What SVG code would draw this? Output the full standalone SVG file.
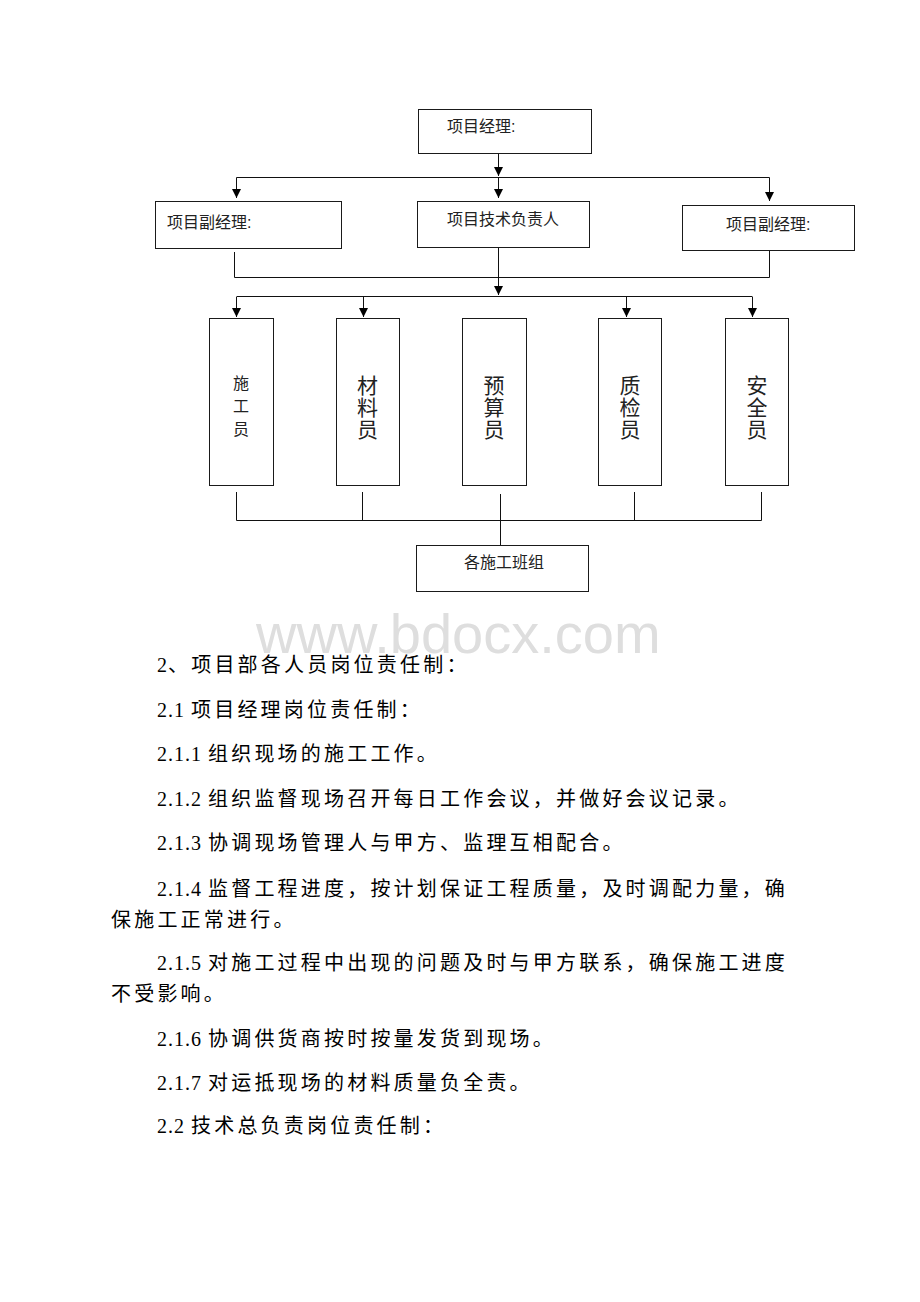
<svg xmlns="http://www.w3.org/2000/svg" width="920" height="1302" viewBox="0 0 920 1302">
<style>
.box{fill:#fff;stroke:#1a1a1a;stroke-width:1}
.ln{fill:none;stroke:#111;stroke-width:1}
.lbl{font-family:"Liberation Sans","Noto Sans CJK SC",sans-serif;font-size:16px;fill:#222}
.v1{font-family:"Liberation Sans","Noto Sans CJK SC",sans-serif;font-size:16px;fill:#222;text-anchor:middle}
.v2{font-family:"Liberation Sans","Noto Sans CJK SC",sans-serif;font-size:21px;fill:#222;text-anchor:middle}
.body{font-family:"Liberation Serif","Noto Sans CJK SC",serif;font-size:20px;fill:#000;letter-spacing:3.2px}
.n{letter-spacing:1px}
.wm{font-family:"Liberation Sans",Arial,sans-serif;font-size:56px;fill:#dedede}
</style>
<defs>
<marker id="ah" viewBox="0 0 10 10" refX="10" refY="5" markerWidth="9" markerHeight="9" markerUnits="userSpaceOnUse" orient="auto">
<path d="M0,0 L10,5 L0,10 z" fill="#000"/>
</marker>
</defs>
<rect width="920" height="1302" fill="#fff"/>

<g id="connectors">
<line class="ln" x1="498.5" y1="153" x2="498.5" y2="176" marker-end="url(#ah)"/>
<polyline class="ln" points="236.5,198 236.5,177.5 769.5,177.5 769.5,201" />
<line class="ln" x1="236.5" y1="178" x2="236.5" y2="198" marker-end="url(#ah)"/>
<line class="ln" x1="498.5" y1="178" x2="498.5" y2="198" marker-end="url(#ah)"/>
<line class="ln" x1="769.5" y1="178" x2="769.5" y2="201" marker-end="url(#ah)"/>
<polyline class="ln" points="234.5,252 234.5,277.5 769.5,277.5 769.5,251"/>
<line class="ln" x1="498.5" y1="247" x2="498.5" y2="295" marker-end="url(#ah)"/>
<line class="ln" x1="236.5" y1="296.5" x2="752.5" y2="296.5"/>
<line class="ln" x1="236.5" y1="297" x2="236.5" y2="317" marker-end="url(#ah)"/>
<line class="ln" x1="363.5" y1="297" x2="363.5" y2="317" marker-end="url(#ah)"/>
<line class="ln" x1="626.5" y1="297" x2="626.5" y2="317" marker-end="url(#ah)"/>
<line class="ln" x1="752.5" y1="297" x2="752.5" y2="317" marker-end="url(#ah)"/>
<polyline class="ln" points="236.5,492 236.5,520.5 761.5,520.5 761.5,492"/>
<line class="ln" x1="362.5" y1="492" x2="362.5" y2="520"/>
<line class="ln" x1="634.5" y1="492" x2="634.5" y2="520"/>
<line class="ln" x1="500.5" y1="494" x2="500.5" y2="545"/>
</g>

<g id="pm">
<rect class="box" x="418.5" y="109.5" width="173" height="44"/>
<text class="lbl" x="447" y="132">项目经理:</text>
</g>
<g id="vpm-left">
<rect class="box" x="155.5" y="201.5" width="186" height="47"/>
<text class="lbl" x="167" y="228">项目副经理:</text>
</g>
<g id="tech">
<rect class="box" x="417.5" y="201.5" width="172" height="46"/>
<text class="lbl" x="447" y="225">项目技术负责人</text>
</g>
<g id="vpm-right">
<rect class="box" x="682.5" y="205.5" width="172" height="45"/>
<text class="lbl" x="726" y="230">项目副经理:</text>
</g>

<g id="sgy">
<rect class="box" x="209.5" y="318.5" width="64" height="167"/>
<text class="v1" x="241" y="389">施</text>
<text class="v1" x="241" y="412">工</text>
<text class="v1" x="241" y="435">员</text>
</g>
<g id="cly">
<rect class="box" x="336.5" y="318.5" width="63" height="167"/>
<text class="v2" x="367.5" y="393">材</text>
<text class="v2" x="367.5" y="415">料</text>
<text class="v2" x="367.5" y="437">员</text>
</g>
<g id="ysy">
<rect class="box" x="462.5" y="318.5" width="64" height="167"/>
<text class="v2" x="494" y="393">预</text>
<text class="v2" x="494" y="415">算</text>
<text class="v2" x="494" y="437">员</text>
</g>
<g id="zjy">
<rect class="box" x="598.5" y="318.5" width="63" height="167"/>
<text class="v2" x="630" y="393">质</text>
<text class="v2" x="630" y="415">检</text>
<text class="v2" x="630" y="437">员</text>
</g>
<g id="aqy">
<rect class="box" x="725.5" y="318.5" width="63" height="167"/>
<text class="v2" x="757" y="393">安</text>
<text class="v2" x="757" y="415">全</text>
<text class="v2" x="757" y="437">员</text>
</g>
<g id="teams">
<rect class="box" x="416.5" y="545.5" width="172" height="46"/>
<text class="lbl" x="464" y="568">各施工班组</text>
</g>

<text class="wm" x="256" y="653">www.bdocx.com</text>

<g id="text">
<text class="body" x="157" y="672"><tspan class="n">2</tspan>、项目部各人员岗位责任制：</text>
<text class="body" x="157" y="717"><tspan class="n">2.1 </tspan>项目经理岗位责任制：</text>
<text class="body" x="157" y="761"><tspan class="n">2.1.1 </tspan>组织现场的施工工作。</text>
<text class="body" x="157" y="806"><tspan class="n">2.1.2 </tspan>组织监督现场召开每日工作会议，并做好会议记录。</text>
<text class="body" x="157" y="850"><tspan class="n">2.1.3 </tspan>协调现场管理人与甲方、监理互相配合。</text>
<text class="body" x="157" y="896" textLength="631" lengthAdjust="spacing"><tspan class="n">2.1.4 </tspan>监督工程进度，按计划保证工程质量，及时调配力量，确</text>
<text class="body" x="111" y="927">保施工正常进行。</text>
<text class="body" x="157" y="970" textLength="631" lengthAdjust="spacing"><tspan class="n">2.1.5 </tspan>对施工过程中出现的问题及时与甲方联系，确保施工进度</text>
<text class="body" x="111" y="1001">不受影响。</text>
<text class="body" x="157" y="1046"><tspan class="n">2.1.6 </tspan>协调供货商按时按量发货到现场。</text>
<text class="body" x="157" y="1090"><tspan class="n">2.1.7 </tspan>对运抵现场的材料质量负全责。</text>
<text class="body" x="157" y="1133"><tspan class="n">2.2 </tspan>技术总负责岗位责任制：</text>
</g>
</svg>
